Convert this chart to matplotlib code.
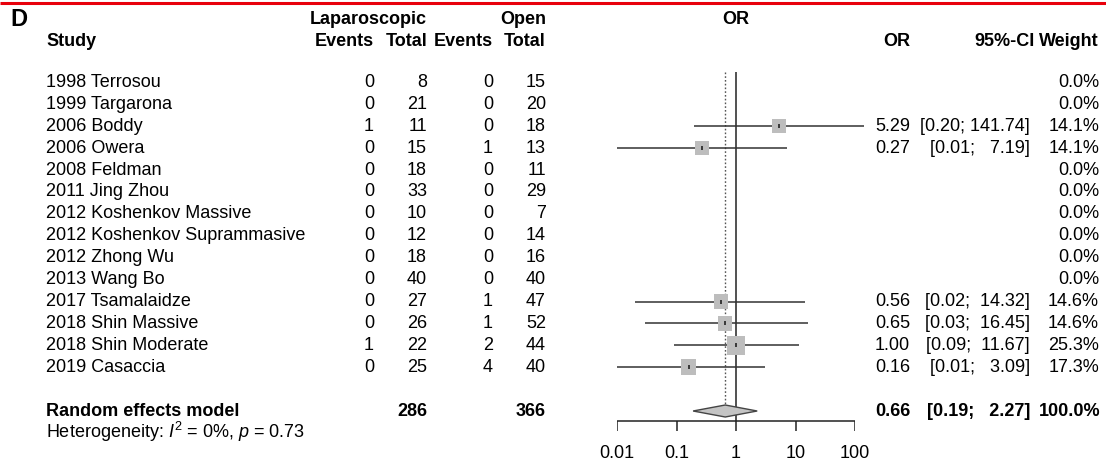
import numpy as np
import matplotlib
matplotlib.use("Agg")
import matplotlib.pyplot as plt

# ── Data ──────────────────────────────────────────────────────────────────────
studies = [
    "1998 Terrosou", "1999 Targarona", "2006 Boddy", "2006 Owera",
    "2008 Feldman", "2011 Jing Zhou", "2012 Koshenkov Massive",
    "2012 Koshenkov Suprammasive", "2012 Zhong Wu", "2013 Wang Bo",
    "2017 Tsamalaidze", "2018 Shin Massive", "2018 Shin Moderate",
    "2019 Casaccia",
]
lap_events = [0, 0, 1, 0, 0, 0, 0, 0, 0, 0, 0, 0, 1, 0]
lap_total = [8, 21, 11, 15, 18, 33, 10, 12, 18, 40, 27, 26, 22, 25]
open_events = [0, 0, 0, 1, 0, 0, 0, 0, 0, 0, 1, 1, 2, 4]
open_total = [15, 20, 18, 13, 11, 29, 7, 14, 16, 40, 47, 52, 44, 40]
odds_ratio = [None, None, 5.29, 0.27, None, None, None, None, None, None,
              0.56, 0.65, 1.00, 0.16]
ci_low = [None, None, 0.20, 0.01, None, None, None, None, None, None,
          0.02, 0.03, 0.09, 0.01]
ci_high = [None, None, 141.74, 7.19, None, None, None, None, None, None,
           14.32, 16.45, 11.67, 3.09]
weights = [0.0, 0.0, 14.1, 14.1, 0.0, 0.0, 0.0, 0.0, 0.0, 0.0,
           14.6, 14.6, 25.3, 17.3]

pooled_or, pooled_low, pooled_high = 0.66, 0.19, 2.27
total_lap, total_open = 286, 366
x_ticks = [0.01, 0.1, 1, 10, 100]
x_tick_labels = ["0.01", "0.1", "1", "10", "100"]

# ── Layout (pixel coordinates) ───────────────────────────────────────────────
W, H = 1106, 463
FONT = "Liberation Sans"
FS = 13
plt.rcParams["font.family"] = FONT
plt.rcParams["mathtext.fontset"] = "custom"
plt.rcParams["mathtext.rm"] = FONT
plt.rcParams["mathtext.it"] = FONT + ":italic"

row0, row_step = 82.5, 21.9
row_y = [row0 + i * row_step for i in range(len(studies))]
pooled_y = row0 + 15 * row_step
axis_y = 421

x_study = 46
x_lap_ev, x_lap_tot, x_open_ev, x_open_tot = 374, 427, 493, 546
x_or, x_ci, x_wt = 910, 1030, 1099

fig = plt.figure(figsize=(W / 100, H / 100), dpi=100)
ax = fig.add_axes([0, 0, 1, 1])
ax.set_xlim(0, W)
ax.set_ylim(H, 0)
ax.axis("off")

# forest panel: log axis mapped so 0.01 -> 617 px, 100 -> 855 px
fx0, fx1 = 617, 855
axf = fig.add_axes([fx0 / W, 0, (fx1 - fx0) / W, 1])
axf.set_xscale("log")
axf.set_xlim(0.01, 100)
axf.set_ylim(H, 0)
axf.axis("off")
axf.patch.set_alpha(0)

# top red rule and panel letter
ax.plot([0, W], [3, 3], color="#e8000b", lw=2.2, solid_capstyle="butt")
ax.text(10, 19, "D", fontsize=17, fontweight="bold", va="center", ha="left")

# ── Headers ──────────────────────────────────────────────────────────────────
hb = dict(fontsize=FS, fontweight="bold", va="center")
ax.text(x_lap_tot, 19, "Laparoscopic", ha="right", **hb)
ax.text(x_open_tot, 19, "Open", ha="right", **hb)
axf.text(1, 19, "OR", ha="center", **hb)
ax.text(x_study, 41, "Study", ha="left", **hb)
ax.text(x_lap_ev, 41, "Events", ha="right", **hb)
ax.text(x_lap_tot, 41, "Total", ha="right", **hb)
ax.text(x_open_ev, 41, "Events", ha="right", **hb)
ax.text(x_open_tot, 41, "Total", ha="right", **hb)
ax.text(x_or, 41, "OR", ha="right", **hb)
ax.text(1035, 41, "95%-CI", ha="right", **hb)
ax.text(x_wt, 41, "Weight", ha="right", **hb)

# ── Study rows ───────────────────────────────────────────────────────────────
tr = dict(fontsize=FS, va="center")
for i, name in enumerate(studies):
    y = row_y[i]
    ax.text(x_study, y, name, ha="left", **tr)
    ax.text(x_lap_ev, y, str(lap_events[i]), ha="right", **tr)
    ax.text(x_lap_tot, y, str(lap_total[i]), ha="right", **tr)
    ax.text(x_open_ev, y, str(open_events[i]), ha="right", **tr)
    ax.text(x_open_tot, y, str(open_total[i]), ha="right", **tr)
    ax.text(x_wt, y, f"{weights[i]:.1f}%", ha="right", **tr)
    if odds_ratio[i] is None:
        continue
    ax.text(x_or, y, f"{odds_ratio[i]:.2f}", ha="right", **tr)
    ax.text(x_ci, y, f"[{ci_low[i]:.2f}; {ci_high[i]:6.2f}]", ha="right", **tr)
    # CI line, weighted square, centre tick
    axf.hlines(y, ci_low[i], ci_high[i], color="#333333", lw=1.1, clip_on=False, zorder=2)
    side_px = 14 * np.sqrt(weights[i] / 14.1)
    axf.scatter([odds_ratio[i]], [y], marker="s", s=(side_px * 0.72) ** 2,
                color="#bdbdbd", edgecolors="none", zorder=3, clip_on=False)
    axf.scatter([odds_ratio[i]], [y], marker="|", s=(5 * 0.72) ** 2,
                color="#222222", linewidths=1.2, zorder=4, clip_on=False)

# reference lines
axf.vlines(1, 72, axis_y, color="#222222", lw=1.1, zorder=1)
axf.vlines(pooled_or, 72, pooled_y - 6, color="#555555", lw=1.0,
           linestyles=(0, (1.2, 1.5)), zorder=1)

# ── Pooled estimate ──────────────────────────────────────────────────────────
ax.text(x_study, pooled_y, "Random effects model", ha="left", fontweight="bold", **tr)
ax.text(x_lap_tot, pooled_y, str(total_lap), ha="right", fontweight="bold", **tr)
ax.text(x_open_tot, pooled_y, str(total_open), ha="right", fontweight="bold", **tr)
ax.text(x_or, pooled_y, f"{pooled_or:.2f}", ha="right", fontweight="bold", **tr)
ax.text(x_ci, pooled_y, f"[{pooled_low:.2f}; {pooled_high:6.2f}]", ha="right",
        fontweight="bold", **tr)
ax.text(1100, pooled_y, "100.0%", ha="right", fontweight="bold", **tr)
axf.fill([pooled_low, pooled_or, pooled_high, pooled_or],
         [pooled_y, pooled_y - 6, pooled_y, pooled_y + 6],
         facecolor="#c4c4c4", edgecolor="#444444", lw=1.0, zorder=3)
ax.text(x_study, 432, r"Heterogeneity: $I^2$ = 0%, $p$ = 0.73",
        fontsize=13, va="center", ha="left")

# ── Axis ─────────────────────────────────────────────────────────────────────
axf.hlines(axis_y, x_ticks[0], x_ticks[-1], color="#222222", lw=1.1)
axf.vlines(x_ticks, axis_y, axis_y + 10, color="#222222", lw=1.1)
for xt, lbl in zip(x_ticks, x_tick_labels):
    axf.text(xt, 453, lbl, ha="center", va="center", fontsize=FS)

fig.savefig("out.png", dpi=100)
